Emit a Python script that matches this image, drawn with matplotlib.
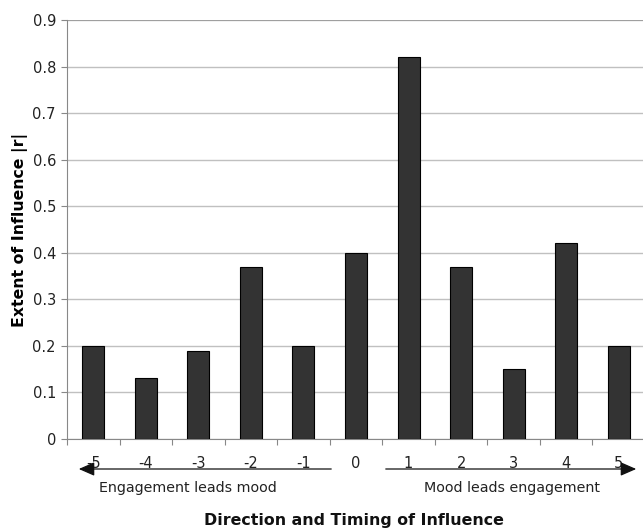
import matplotlib
matplotlib.use("Agg")
import matplotlib.pyplot as plt
from matplotlib.patches import FancyArrowPatch

lags = ["-5", "-4", "-3", "-2", "-1", "0", "1", "2", "3", "4", "5"]
influence = [0.20, 0.13, 0.19, 0.37, 0.20, 0.40, 0.82, 0.37, 0.15, 0.42, 0.20]
yticks = [0, 0.1, 0.2, 0.3, 0.4, 0.5, 0.6, 0.7, 0.8, 0.9]
ytick_labels = ["0", "0.1", "0.2", "0.3", "0.4", "0.5", "0.6", "0.7", "0.8", "0.9"]

plt.rcParams['font.family'] = ['DejaVu Sans']

W, H = 643, 529
fig = plt.figure(figsize=(W / 100, H / 100), dpi=100)
ax = fig.add_axes([67 / W, (H - 439) / H, 578 / W, (439 - 20) / H])

x = list(range(len(lags)))
ax.bar(x, influence, width=0.42, color="#333333", edgecolor="#000000", linewidth=0.8, zorder=3)

ax.set_xlim(-0.5, len(lags) - 0.5)
ax.set_ylim(0, 0.9)
ax.set_yticks(yticks)
ax.set_yticklabels(ytick_labels, fontsize=10.5, color="#222222")
ax.set_xticks(x)
ax.set_xticklabels(lags, fontsize=10.5, color="#222222")
ax.tick_params(axis='x', length=0, pad=12)
ax.set_xticks([i - 0.5 for i in range(len(lags) + 1)], minor=True)
ax.tick_params(axis='x', which='minor', length=4, color="#888888", width=0.8, direction='out')
ax.tick_params(axis='y', length=4, color="#888888", width=0.8, direction='out', pad=4)

ax.grid(axis='y', color="#c0c0c0", linewidth=1.0, zorder=0)
ax.set_axisbelow(True)
for s in ["top", "right"]:
    ax.spines[s].set_visible(False)
ax.spines["left"].set_color("#888888")
ax.spines["bottom"].set_color("#888888")
ax.axhline(0.9, color="#999999", linewidth=1.2, zorder=1)

ax.set_ylabel("Extent of Influence |r|", fontsize=11.3, fontweight="bold", labelpad=3)

# direction arrows
ay = (H - 469) / H
style = "-|>,head_length=0.8,head_width=0.35"
for x0, x1 in [(334, 76), (383, 639)]:
    fig.add_artist(FancyArrowPatch((x0 / W, ay), (x1 / W, ay), transform=fig.transFigure,
                                   arrowstyle=style, mutation_scale=12, color="#111111", lw=0.9))

fig.text(188 / W, (H - 488) / H, "Engagement leads mood", ha="center", va="center", fontsize=10.3, color="#222222")
fig.text(512 / W, (H - 488) / H, "Mood leads engagement", ha="center", va="center", fontsize=10.3, color="#222222")
fig.text(354 / W, (H - 521) / H, "Direction and Timing of Influence", ha="center", va="center",
         fontsize=11.4, fontweight="bold", color="#111111")

fig.savefig("out.png", dpi=100)
